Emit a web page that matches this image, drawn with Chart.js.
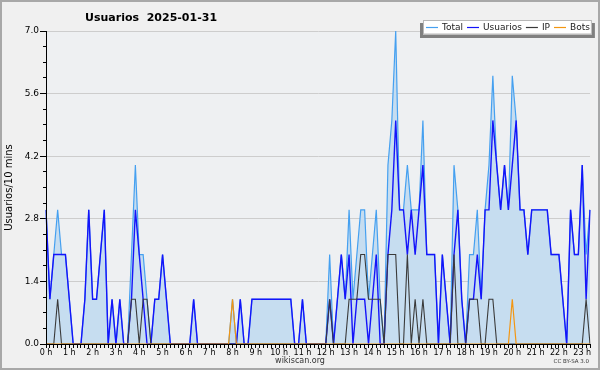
<!DOCTYPE html>
<html>
<head>
<meta charset="utf-8">
<title>Usuarios 2025-01-31</title>
<script src="https://cdn.jsdelivr.net/npm/chart.js@4.4.1/dist/chart.umd.min.js"></script>
<style>
  html, body { margin: 0; padding: 0; background: #f0f0f0; }
  #wrap { width: 600px; height: 370px; }
</style>
</head>
<body>
<div id="wrap"><canvas id="chart" width="600" height="370"></canvas></div>
<script>
  'use strict';

  // ── Texts ─────────────────────────────────────────────────────────

  var TITLE   = 'Usuarios  2025-01-31';
  var Y_LABEL = 'Usuarios/10 mins';
  var SITE    = 'wikiscan.org';
  var LICENSE = 'CC BY-SA 3.0';

  // ── Axis ticks ────────────────────────────────────────────────────

  var HOUR_LABELS = ['0 h', '1 h', '2 h', '3 h', '4 h', '5 h', '6 h', '7 h',
    '8 h', '9 h', '10 h', '11 h', '12 h', '13 h', '14 h', '15 h', '16 h',
    '17 h', '18 h', '19 h', '20 h', '21 h', '22 h', '23 h'];
  var SLOTS_PER_HOUR = 6;            // one point every 10 minutes
  var Y_TICKS = [0, 1.4, 2.8, 4.2, 5.6, 7.0];
  var Y_MINOR_STEP = 0.35;

  // ── Series (one row per hour, 10-minute slots) ────────────────────

  var total = [
    3, 1, 2, 3, 2, 2,   1, 0, 0, 0, 1, 3,   1, 1, 2, 3, 0, 1,   0, 1, 0, 0, 2, 4,
    2, 2, 1, 0, 1, 1,   2, 1, 0, 0, 0, 0,   0, 0, 1, 0, 0, 0,   0, 0, 0, 0, 0, 0,
    1, 0, 1, 0, 0, 1,   1, 1, 1, 1, 1, 1,   1, 1, 1, 1, 0, 0,   1, 0, 0, 0, 0, 0,
    0, 2, 0, 1, 2, 1,   3, 1, 2, 3, 3, 1,   2, 3, 1, 0, 4, 5,   7, 3, 3, 4, 3, 3,
    3, 5, 2, 2, 2, 0,   2, 1, 0, 4, 3, 1,   0, 2, 2, 3, 1, 3,   4, 6, 4, 3, 4, 3,
    6, 5, 3, 3, 2, 3,   3, 3, 3, 3, 2, 2,   2, 1, 0, 3, 2, 2,   4, 2, 3
  ];

  var usuarios = [
    3, 1, 2, 2, 2, 2,   1, 0, 0, 0, 1, 3,   1, 1, 2, 3, 0, 1,   0, 1, 0, 0, 1, 3,
    2, 1, 0, 0, 1, 1,   2, 1, 0, 0, 0, 0,   0, 0, 1, 0, 0, 0,   0, 0, 0, 0, 0, 0,
    0, 0, 1, 0, 0, 1,   1, 1, 1, 1, 1, 1,   1, 1, 1, 1, 0, 0,   1, 0, 0, 0, 0, 0,
    0, 1, 0, 1, 2, 1,   2, 0, 1, 1, 1, 0,   1, 2, 0, 0, 2, 3,   5, 3, 3, 2, 3, 2,
    3, 4, 2, 2, 2, 0,   2, 1, 0, 2, 3, 1,   0, 1, 1, 2, 1, 3,   3, 5, 4, 3, 4, 3,
    4, 5, 3, 3, 2, 3,   3, 3, 3, 3, 2, 2,   2, 1, 0, 3, 2, 2,   4, 1, 3
  ];

  var ip = [
    0, 0, 0, 1, 0, 0,   0, 0, 0, 0, 0, 0,   0, 0, 0, 0, 0, 0,   0, 0, 0, 0, 1, 1,
    0, 1, 1, 0, 0, 0,   0, 0, 0, 0, 0, 0,   0, 0, 0, 0, 0, 0,   0, 0, 0, 0, 0, 0,
    0, 0, 0, 0, 0, 0,   0, 0, 0, 0, 0, 0,   0, 0, 0, 0, 0, 0,   0, 0, 0, 0, 0, 0,
    0, 1, 0, 0, 0, 0,   1, 1, 1, 2, 2, 1,   1, 1, 1, 0, 2, 2,   2, 0, 0, 2, 0, 1,
    0, 1, 0, 0, 0, 0,   0, 0, 0, 2, 0, 0,   0, 1, 1, 1, 0, 0,   1, 1, 0, 0, 0, 0,
    0, 0, 0, 0, 0, 0,   0, 0, 0, 0, 0, 0,   0, 0, 0, 0, 0, 0,   0, 1, 0
  ];

  var bots = [
    0, 0, 0, 0, 0, 0,   0, 0, 0, 0, 0, 0,   0, 0, 0, 0, 0, 0,   0, 0, 0, 0, 0, 0,
    0, 0, 0, 0, 0, 0,   0, 0, 0, 0, 0, 0,   0, 0, 0, 0, 0, 0,   0, 0, 0, 0, 0, 0,
    1, 0, 0, 0, 0, 0,   0, 0, 0, 0, 0, 0,   0, 0, 0, 0, 0, 0,   0, 0, 0, 0, 0, 0,
    0, 0, 0, 0, 0, 0,   0, 0, 0, 0, 0, 0,   0, 0, 0, 0, 0, 0,   0, 0, 0, 0, 0, 0,
    0, 0, 0, 0, 0, 0,   0, 0, 0, 0, 0, 0,   0, 0, 0, 0, 0, 0,   0, 0, 0, 0, 0, 0,
    1, 0, 0, 0, 0, 0,   0, 0, 0, 0, 0, 0,   0, 0, 0, 0, 0, 0,   0, 0, 0
  ];

  // ── Colors / fonts ────────────────────────────────────────────────

  var FONT       = "'DejaVu Sans', sans-serif";
  var PAGE_BG    = '#f0f0f0';
  var PLOT_BG    = '#eef0f2';
  var GRID       = '#cdcdcd';
  var C_TOTAL    = '#45a0f0';
  var C_FILL     = '#c6ddf0';
  var C_USUARIOS = '#1414fa';
  var C_IP       = '#3a3a3a';
  var C_BOTS     = '#f39612';

  // slot labels, 00:00 .. 23:20
  var slots = total.map(function (v, i) {
    var h = Math.floor(i / SLOTS_PER_HOUR);
    var m = (i % SLOTS_PER_HOUR) * 10;
    return h + ':' + (m < 10 ? '0' : '') + m;
  });

  var minorTicks = [];
  for (var t = 0; t <= Y_TICKS[Y_TICKS.length - 1] + 1e-9; t += Y_MINOR_STEP) {
    minorTicks.push({ value: t });
  }

  // ── Decorations: background, title, legend, footer ────────────────

  var decor = {
    id: 'decor',
    beforeDraw: function (chart) {
      var ctx = chart.ctx, a = chart.chartArea;
      ctx.save();
      ctx.fillStyle = PAGE_BG;
      ctx.fillRect(0, 0, chart.width, chart.height);
      ctx.fillStyle = PLOT_BG;
      ctx.fillRect(a.left, a.top, a.right - a.left, a.bottom - a.top);
      ctx.restore();
    },
    afterDraw: function (chart) {
      var ctx = chart.ctx, a = chart.chartArea;
      ctx.save();

      // title
      ctx.fillStyle = '#000';
      ctx.font = 'bold 11px ' + FONT;
      ctx.textAlign = 'left';
      ctx.textBaseline = 'middle';
      ctx.fillText(TITLE, 85, 18);

      // y axis title
      ctx.save();
      ctx.translate(9, (a.top + a.bottom) / 2);
      ctx.rotate(-Math.PI / 2);
      ctx.font = '10px ' + FONT;
      ctx.textAlign = 'center';
      ctx.fillText(Y_LABEL, 0, 0);
      ctx.restore();

      // legend box with shadow
      ctx.font = '9px ' + FONT;
      var sets = chart.data.datasets;
      var x0 = 426, lineLen = 12, gap = 4, ly = 27.5;
      var w = 0;
      sets.forEach(function (ds) {
        w += lineLen + gap + ctx.measureText(ds.label).width + gap;
      });
      var boxL = 423, boxR = x0 + w - 2, boxT = 20, boxB = 34.5;
      ctx.fillStyle = '#808080';
      ctx.fillRect(boxL - 3, boxT + 3, boxR - boxL + 6, boxB - boxT + 0.5);
      ctx.fillStyle = '#ffffff';
      ctx.fillRect(boxL, boxT, boxR - boxL, boxB - boxT);
      ctx.strokeStyle = '#b8b8b8';
      ctx.lineWidth = 1;
      ctx.strokeRect(boxL + 0.5, boxT + 0.5, boxR - boxL - 1, boxB - boxT - 1);

      var x = x0;
      sets.forEach(function (ds) {
        ctx.strokeStyle = ds.borderColor;
        ctx.lineWidth = 1.2;
        ctx.beginPath();
        ctx.moveTo(x, ly);
        ctx.lineTo(x + lineLen, ly);
        ctx.stroke();
        x += lineLen + gap;
        ctx.fillStyle = '#222';
        ctx.textAlign = 'left';
        ctx.fillText(ds.label, x, ly);
        x += ctx.measureText(ds.label).width + gap;
      });

      // footer
      ctx.fillStyle = '#333';
      ctx.font = '8px ' + FONT;
      ctx.textAlign = 'center';
      ctx.fillText(SITE, 300, 361);
      ctx.font = '5.5px ' + FONT;
      ctx.textAlign = 'right';
      ctx.fillText(LICENSE, 589, 362);

      // outer frame
      ctx.strokeStyle = '#a8a8a8';
      ctx.lineWidth = 2;
      ctx.strokeRect(1, 1, chart.width - 2, chart.height - 2);
      ctx.restore();
    }
  };

  // ── Datasets ──────────────────────────────────────────────────────

  function lineSet(label, data, color, width, order, extra) {
    var ds = {
      label: label,
      data: data,
      borderColor: color,
      backgroundColor: color,
      borderWidth: width,
      pointRadius: 0,
      tension: 0,
      fill: false,
      order: order,
      yAxisID: 'y'
    };
    for (var k in extra) ds[k] = extra[k];
    return ds;
  }

  new Chart(document.getElementById('chart'), {
    type: 'line',
    data: {
      labels: slots,
      datasets: [
        lineSet('Total', total, C_TOTAL, 1.2, 4, { fill: 'origin', backgroundColor: C_FILL }),
        lineSet('Usuarios', usuarios, C_USUARIOS, 1.4, 3),
        lineSet('IP', ip, C_IP, 1.1, 2),
        lineSet('Bots', bots, C_BOTS, 1.2, 1)
      ]
    },
    options: {
      responsive: false,
      animation: false,
      events: [],
      layout: { padding: { left: 0, right: 10, top: 31, bottom: 12 } },
      plugins: {
        legend: { display: false },
        tooltip: { enabled: false }
      },
      scales: {
        x: {
          type: 'category',
          offset: false,
          ticks: {
            autoSkip: false,
            maxRotation: 0,
            minRotation: 0,
            padding: 0,
            color: '#000',
            font: { family: FONT, size: 8 },
            callback: function (v, i) {
              return i % SLOTS_PER_HOUR === 0 ? HOUR_LABELS[i / SLOTS_PER_HOUR] : '';
            }
          },
          grid: { drawOnChartArea: false, tickColor: '#000', tickLength: 4 },
          border: { color: '#000', z: 1 },
          afterFit: function (s) { s.height = 14; }
        },
        y: {
          position: 'left',
          weight: 1,
          min: 0,
          max: Y_TICKS[Y_TICKS.length - 1],
          afterBuildTicks: function (s) {
            s.ticks = Y_TICKS.map(function (v) { return { value: v }; });
          },
          ticks: {
            padding: 1,
            color: '#000',
            font: { family: FONT, size: 9 },
            callback: function (v) { return Number(v).toFixed(1); }
          },
          grid: { color: GRID, tickColor: '#000', tickLength: 6 },
          border: { color: '#000', z: 1 },
          afterFit: function (s) { s.width = 46; }
        },
        yMinor: {
          position: 'left',
          weight: 0,
          min: 0,
          max: Y_TICKS[Y_TICKS.length - 1],
          afterBuildTicks: function (s) { s.ticks = minorTicks.slice(); },
          ticks: { display: false },
          grid: { drawOnChartArea: false, tickColor: '#000', tickLength: 3 },
          border: { display: false },
          afterFit: function (s) { s.width = 0; }
        }
      }
    },
    plugins: [decor]
  });
</script>
</body>
</html>
